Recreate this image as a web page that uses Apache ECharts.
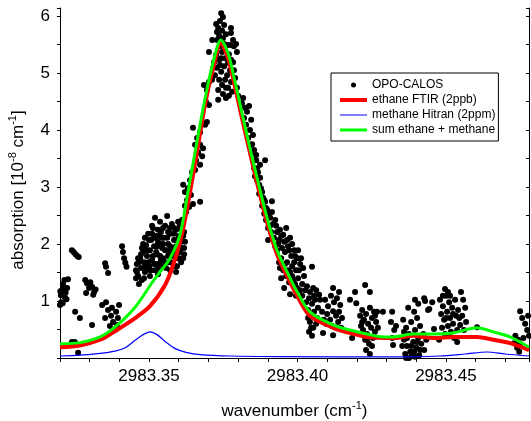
<!DOCTYPE html>
<html>
<head>
<meta charset="utf-8">
<script src="https://cdn.jsdelivr.net/npm/echarts@6/dist/echarts.min.js"></script>
<style>
  html, body { margin: 0; padding: 0; background: #fff; }
  #chart { width: 531px; height: 421px; }
</style>
</head>
<body>
<div id="chart"></div>
<script>
// OPO-CALOS measured absorption (wavenumber in cm^-1, absorption in 1e-8 cm^-1)
const measWn = [
  2983.3200, 2983.3203, 2983.3204, 2983.3207, 2983.3209, 2983.3212, 2983.3215, 2983.3216, 2983.3219, 2983.3224, 2983.3227, 2983.3210, 2983.3222, 2983.3201,
  2983.3240, 2983.3246, 2983.3252, 2983.3258, 2983.3263,
  2983.3251, 2983.3267, 2983.3240, 2983.3250, 2983.3261,
  2983.3285, 2983.3291, 2983.3298, 2983.3302, 2983.3312, 2983.3315, 2983.3288, 2983.3308, 2983.3320, 2983.3308,
  2983.3352, 2983.3362, 2983.3355,
  2983.3342, 2983.3355, 2983.3362, 2983.3372, 2983.3379, 2983.3389, 2983.3395, 2983.3368, 2983.3385, 2983.3352, 2983.3375, 2983.3392, 2983.3399,
  2983.3409, 2983.3412, 2983.3416, 2983.3420, 2983.3424,
  2983.3456, 2983.3463, 2983.3459, 2983.3470, 2983.3473, 2983.3480, 2983.3483, 2983.3486, 2983.3490, 2983.3493,
  2983.3497, 2983.3500, 2983.3503, 2983.3507, 2983.3510, 2983.3513, 2983.3517, 2983.3520, 2983.3524, 2983.3527,
  2983.3530, 2983.3534, 2983.3537, 2983.3540, 2983.3544, 2983.3547, 2983.3550, 2983.3554, 2983.3557, 2983.3561,
  2983.3564, 2983.3567, 2983.3571, 2983.3574, 2983.3577, 2983.3581, 2983.3584, 2983.3588, 2983.3591, 2983.3594,
  2983.3598, 2983.3601, 2983.3604, 2983.3608, 2983.3615, 2983.3618, 2983.3476, 2983.3466, 2983.3503, 2983.3520,
  2983.3530, 2983.3571, 2983.3591,
  2983.3463, 2983.3476, 2983.3486, 2983.3497, 2983.3507, 2983.3513, 2983.3524, 2983.3530, 2983.3537, 2983.3544,
  2983.3550, 2983.3557, 2983.3564, 2983.3571, 2983.3577, 2983.3584, 2983.3591, 2983.3598, 2983.3604, 2983.3611,
  2983.3510, 2983.3527, 2983.3547, 2983.3567, 2983.3588, 2983.3608, 2983.3493, 2983.3483, 2983.3456,
  2983.3459, 2983.3466, 2983.3473, 2983.3480, 2983.3486, 2983.3493, 2983.3500, 2983.3503, 2983.3510, 2983.3517,
  2983.3517, 2983.3524, 2983.3530, 2983.3534, 2983.3540, 2983.3540, 2983.3547, 2983.3554, 2983.3554, 2983.3561,
  2983.3564, 2983.3571, 2983.3574, 2983.3581, 2983.3584, 2983.3591, 2983.3594, 2983.3601, 2983.3601, 2983.3608,
  2983.3615, 2983.3618, 2983.3621,
  2983.3615, 2983.3621, 2983.3628, 2983.3635, 2983.3625, 2983.3641, 2983.3648, 2983.3611, 2983.3604, 2983.3618,
  2983.3638, 2983.3645, 2983.3658, 2983.3665, 2983.3672, 2983.3679, 2983.3682, 2983.3672, 2983.3621, 2983.3631,
  2983.3598, 2983.3655,
  2983.3655, 2983.3662, 2983.3672, 2983.3665, 2983.3689, 2983.3695, 2983.3648, 2983.3672,
  2983.3685, 2983.3695, 2983.3702, 2983.3692, 2983.3702, 2983.3702, 2983.3716,
  2983.3743, 2983.3749, 2983.3739, 2983.3753, 2983.3733, 2983.3746, 2983.3759, 2983.3736, 2983.3749,
  2983.3726, 2983.3729, 2983.3776, 2983.3783, 2983.3786, 2983.3713, 2983.3796, 2983.3793, 2983.3776,
  2983.3726, 2983.3736, 2983.3746, 2983.3756, 2983.3766, 2983.3729, 2983.3743, 2983.3753, 2983.3763, 2983.3773,
  2983.3736, 2983.3746, 2983.3756, 2983.3766, 2983.3776, 2983.3749, 2983.3759, 2983.3739, 2983.3780, 2983.3733,
  2983.3719, 2983.3769, 2983.3783, 2983.3790, 2983.3796, 2983.3763, 2983.3739,
  2983.3722, 2983.3733, 2983.3743, 2983.3753, 2983.3759, 2983.3769, 2983.3776, 2983.3786, 2983.3729, 2983.3773,
  2983.3712, 2983.3800,
  2983.3813, 2983.3823, 2983.3830, 2983.3820, 2983.3837, 2983.3827, 2983.3840, 2983.3834, 2983.3847, 2983.3854,
  2983.3844, 2983.3817, 2983.3861, 2983.3850,
  2983.3844, 2983.3850, 2983.3861, 2983.3854, 2983.3867, 2983.3864, 2983.3874, 2983.3877, 2983.3871, 2983.3884,
  2983.3881, 2983.3891, 2983.3888, 2983.3898, 2983.3894, 2983.3891, 2983.3908, 2983.3914, 2983.3901, 2983.3911,
  2983.3921, 2983.3928, 2983.3941, 2983.3952, 2983.3962, 2983.3975, 2983.3935, 2983.3948, 2983.3958, 2983.3968,
  2983.3979, 2983.3989, 2983.3999, 2983.3965, 2983.3982, 2983.4009, 2983.3995, 2983.4019, 2983.4049, 2983.3918,
  2983.3931, 2983.3945, 2983.3874, 2983.3857,
  2983.3850, 2983.3864, 2983.3871, 2983.3881, 2983.3888, 2983.3894, 2983.3901, 2983.3908, 2983.3914, 2983.3925,
  2983.3931, 2983.3938, 2983.3945, 2983.3955, 2983.3965, 2983.3972, 2983.3982, 2983.3992, 2983.4002, 2983.4012,
  2983.3958, 2983.3975, 2983.3985, 2983.3999, 2983.4016, 2983.4026, 2983.3941, 2983.3925, 2983.3901,
  2983.3938, 2983.3952, 2983.3962, 2983.3972, 2983.3982, 2983.3992, 2983.4002, 2983.4009, 2983.3955, 2983.3975,
  2983.3995, 2983.3945, 2983.4016, 2983.4022, 2983.3968, 2983.3989, 2983.4005,
  2983.4032, 2983.4042, 2983.4053, 2983.4039, 2983.4049, 2983.4059, 2983.4036, 2983.4046, 2983.4056, 2983.4066,
  2983.4042, 2983.4053, 2983.4063, 2983.4039, 2983.4049, 2983.4069, 2983.4029, 2983.4073, 2983.4063,
  2983.4036, 2983.4046, 2983.4056, 2983.4076, 2983.4083, 2983.4089,
  2983.4093, 2983.4103, 2983.4113, 2983.4123, 2983.4133, 2983.4144, 2983.4100, 2983.4110, 2983.4120, 2983.4130,
  2983.4140, 2983.4150, 2983.4096, 2983.4117, 2983.4137, 2983.4120, 2983.4140, 2983.4086, 2983.4120, 2983.4147,
  2983.4177, 2983.4198, 2983.4194, 2983.4228, 2983.4244, 2983.4184, 2983.4218,
  2983.4218, 2983.4231, 2983.4244, 2983.4258, 2983.4224, 2983.4238, 2983.4251, 2983.4265, 2983.4221, 2983.4234,
  2983.4248, 2983.4261, 2983.4228, 2983.4241, 2983.4254, 2983.4231, 2983.4244, 2983.4268, 2983.4211, 2983.4271,
  2983.4214, 2983.4234, 2983.4251, 2983.4261,
  2983.4288, 2983.4319, 2983.4315, 2983.4326, 2983.4319, 2983.4332, 2983.4322,
  2983.4356, 2983.4366, 2983.4376, 2983.4359, 2983.4369, 2983.4380, 2983.4390, 2983.4400, 2983.4386, 2983.4363,
  2983.4407, 2983.4396, 2983.4410, 2983.4417, 2983.4427, 2983.4383, 2983.4393, 2983.4403, 2983.4413, 2983.4424,
  2983.4396, 2983.4373, 2983.4434, 2983.4376, 2983.4353,
  2983.4359, 2983.4369, 2983.4383, 2983.4393, 2983.4403, 2983.4413, 2983.4366, 2983.4396,
  2983.4407, 2983.4427, 2983.4440, 2983.4454, 2983.4430, 2983.4444,
  2983.4480, 2983.4490, 2983.4501, 2983.4511, 2983.4521, 2983.4531, 2983.4484, 2983.4494, 2983.4504, 2983.4514,
  2983.4524, 2983.4534, 2983.4487, 2983.4497, 2983.4507, 2983.4517, 2983.4528, 2983.4497, 2983.4507, 2983.4551,
  2983.4558, 2983.4565, 2983.4555, 2983.4568, 2983.4561, 2983.4548, 2983.4541, 2983.4477, 2983.4538, 2983.4460,
  2983.4490, 2983.4514, 2983.4524, 2983.4501, 2983.4511, 2983.4538, 2983.4545,
  2983.4605,
  2983.4750, 2983.4757, 2983.4767, 2983.4774, 2983.4734, 2983.4743, 2983.4750, 2983.4740, 2983.4747, 2983.4761,
  2983.4730, 2983.4777, 2983.4780
];
const measAbs = [
  0.93, 1.10, 0.98, 1.19, 0.96, 1.25, 1.37, 1.07, 1.15, 1.23, 1.38, 1.30, 1.03, 1.17,
  1.89, 1.86, 1.82, 1.79, 1.77,
  0.81, 0.70, 0.28, 0.28, 0.09,
  1.37, 1.31, 1.23, 1.33, 1.11, 1.16, 1.14, 1.25, 1.20, 0.58,
  1.66, 1.49, 1.60,
  0.93, 0.98, 0.84, 0.74, 0.63, 0.81, 0.70, 0.56, 0.49, 0.70, 0.88, 0.58, 0.93,
  1.96, 1.86, 1.75, 1.67, 1.60,
  1.54, 1.44, 1.65, 1.75, 1.58, 1.86, 1.68, 1.51, 1.98, 1.79,
  2.18, 1.61, 1.89, 2.07, 1.72, 2.28, 1.96, 2.46, 2.14, 1.82,
  2.04, 1.65, 2.39, 2.21, 1.93, 1.75, 2.11, 2.32, 1.58, 2.49,
  2.00, 1.82, 2.18, 1.68, 2.35, 1.93, 2.07, 1.79, 2.25, 1.61,
  1.96, 2.14, 1.86, 2.04, 1.75, 1.93, 1.37, 1.30, 1.44, 1.54,
  1.47, 1.54, 1.51,
  1.75, 1.93, 2.11, 1.68, 1.54, 1.79, 1.65, 2.25, 1.79, 2.11,
  1.61, 1.89, 2.21, 1.96, 1.79, 2.28, 1.96, 1.75, 2.11, 2.25,
  2.18, 1.96, 2.00, 1.68, 1.61, 1.68, 1.58, 1.40, 1.40,
  1.51, 1.68, 1.82, 2.00, 1.61, 1.89, 2.07, 1.54, 2.32, 2.11,
  1.65, 1.86, 1.58, 2.14, 2.00, 1.72, 2.28, 1.89, 1.68, 2.11,
  1.79, 2.28, 1.89, 1.65, 2.18, 1.86, 2.07, 2.28, 1.75, 1.93,
  2.14, 1.82, 2.04,
  3.04, 2.91, 2.77, 2.65, 2.56, 2.86, 2.70, 2.42, 2.32, 2.21,
  3.12, 3.26, 3.47, 3.60, 3.39, 3.54, 3.68, 2.74, 2.67, 2.98,
  2.39, 3.30,
  3.74, 3.86, 3.96, 3.61, 4.09, 4.14, 4.04, 3.74,
  4.79, 4.70, 4.84, 4.49, 4.44, 5.37, 5.09,
  6.05, 5.98, 5.91, 5.84, 5.79, 5.74, 5.68, 5.65, 5.61,
  5.86, 5.72, 5.70, 5.58, 5.47, 5.58, 5.37, 5.51, 5.79,
  5.32, 5.23, 5.37, 5.26, 5.18, 5.09, 5.02, 5.12, 4.96, 5.05,
  4.88, 4.79, 4.88, 4.74, 4.84, 4.63, 4.56, 5.14, 4.67, 4.70,
  5.19, 5.33, 5.19, 4.91, 4.74, 5.49, 5.47,
  4.96, 4.53, 5.26, 5.51, 4.74, 4.60, 5.23, 5.05, 5.58, 5.49,
  4.88, 4.60,
  4.47, 4.39, 4.32, 4.21, 4.42, 4.09, 4.00, 3.86, 3.75, 3.65,
  4.18, 4.56, 3.56, 3.91,
  3.74, 3.61, 3.47, 3.33, 3.26, 3.12, 3.16, 2.98, 2.88, 2.81,
  2.67, 2.74, 2.53, 2.60, 2.42, 3.47, 2.46, 2.75, 2.28, 2.21,
  2.11, 2.32, 2.25, 2.16, 2.28, 2.11, 2.00, 1.93, 1.86, 1.96,
  1.79, 1.89, 1.75, 1.68, 1.61, 1.65, 1.54, 1.58, 1.60, 2.35,
  1.89, 1.75, 3.39, 3.19,
  3.47, 3.33, 3.04, 2.91, 2.77, 2.63, 2.53, 2.32, 2.56, 2.42,
  2.21, 2.07, 2.14, 2.04, 2.07, 1.89, 2.00, 1.79, 1.89, 1.75,
  1.65, 1.51, 1.37, 1.23, 1.09, 1.19, 1.58, 1.96, 2.07,
  1.68, 1.54, 1.44, 1.33, 1.44, 1.30, 1.40, 1.19, 1.23, 1.12,
  1.09, 1.40, 1.30, 1.44, 1.54, 1.68, 1.54,
  1.26, 1.16, 1.23, 1.05, 0.95, 1.02, 0.84, 0.74, 0.81, 0.70,
  0.63, 0.53, 0.60, 0.46, 0.39, 0.88, 0.98, 1.11, 1.19,
  0.70, 0.53, 1.09, 1.02, 0.81, 0.67,
  1.02, 0.91, 1.09, 0.98, 1.05, 0.93, 0.77, 0.67, 0.82, 0.74,
  0.81, 0.70, 0.60, 0.56, 0.63, 1.23, 1.16, 0.44, 0.40, 0.53,
  1.02, 0.96, 1.16, 1.28, 1.16, 0.35, 0.63,
  0.84, 0.77, 0.88, 0.81, 0.67, 0.60, 0.70, 0.63, 0.49, 0.42,
  0.53, 0.46, 0.32, 0.25, 0.35, 0.14, 0.07, 0.81, 0.74, 0.53,
  0.56, 0.32, 0.21, 0.74,
  0.81, 0.81, 0.63, 0.49, 0.35, 0.56, 0.23,
  0.67, 0.53, 0.42, 0.32, 0.21, 0.11, 0.28, 0.18, 0.04, 0.07,
  0.35, 0.49, 0.05, 0.25, 0.14, 0.63, 0.81, 0.70, 0.56, 0.42,
  1.02, 0.88, 0.32, 0.00, 0.21,
  0.46, 0.35, 0.21, 0.11, 0.28, 0.14, 0.00, 0.02,
  0.95, 1.05, 0.84, 0.98, 1.00, 0.86,
  1.02, 0.91, 1.09, 0.98, 0.88, 1.02, 0.77, 0.67, 0.81, 0.70,
  0.60, 0.74, 0.53, 0.42, 0.56, 0.46, 0.35, 1.21, 1.16, 1.16,
  1.02, 0.88, 0.74, 0.63, 0.49, 0.58, 0.84, 0.32, 0.28, 0.51,
  1.09, 1.09, 0.77, 0.70, 0.39, 0.49, 0.70,
  0.54,
  0.82, 0.70, 0.60, 0.49, 0.39, 0.32, 0.25, 0.18, 0.11, 0.35,
  0.26, 0.74, 0.39
];

// ethane FTIR reference spectrum (2 ppb)
const ethaneWn = [
  2983.3200, 2983.3267, 2983.3335, 2983.3385, 2983.3453, 2983.3503, 2983.3554, 2983.3587, 2983.3614, 2983.3638,
  2983.3662, 2983.3689, 2983.3716, 2983.3742, 2983.3766, 2983.3786, 2983.3813, 2983.3840, 2983.3864, 2983.3897,
  2983.3931, 2983.3965, 2983.3999, 2983.4042, 2983.4120, 2983.4177, 2983.4234, 2983.4322, 2983.4389, 2983.4463,
  2983.4524, 2983.4605, 2983.4659, 2983.4716, 2983.4780
];
const ethaneAbs = [
  0.19, 0.22, 0.32, 0.47, 0.70, 0.91, 1.28, 1.72, 2.25, 2.91,
  3.63, 4.46, 5.09, 5.53, 5.26, 4.84, 4.21, 3.60, 3.07, 2.39,
  1.82, 1.44, 1.09, 0.74, 0.53, 0.44, 0.37, 0.35, 0.39, 0.35,
  0.37, 0.37, 0.32, 0.26, 0.14
];

// methane HITRAN simulation (2 ppm)
const methaneWn = [
  2983.3200, 2983.3267, 2983.3335, 2983.3385, 2983.3420, 2983.3453, 2983.3480, 2983.3503, 2983.3527, 2983.3554,
  2983.3590, 2983.3625, 2983.3672, 2983.3773, 2983.3941, 2983.4346, 2983.4480, 2983.4565, 2983.4639, 2983.4700,
  2983.4780
];
const methaneAbs = [
  0.035, 0.05, 0.08, 0.12, 0.18, 0.31, 0.41, 0.46, 0.41, 0.29,
  0.16, 0.10, 0.06, 0.035, 0.025, 0.02, 0.035, 0.07, 0.105, 0.07,
  0.035
];

// sum of ethane and methane
const sumWn = [
  2983.3200, 2983.3267, 2983.3335, 2983.3385, 2983.3453, 2983.3510, 2983.3537, 2983.3571, 2983.3604, 2983.3631,
  2983.3655, 2983.3689, 2983.3716, 2983.3742, 2983.3766, 2983.3786, 2983.3813, 2983.3840, 2983.3864, 2983.3897,
  2983.3931, 2983.3965, 2983.3999, 2983.4042, 2983.4120, 2983.4177, 2983.4234, 2983.4288, 2983.4322, 2983.4389,
  2983.4463, 2983.4524, 2983.4605, 2983.4659, 2983.4716, 2983.4780
];
const sumAbs = [
  0.25, 0.27, 0.37, 0.54, 0.89, 1.32, 1.51, 1.75, 2.16, 2.91,
  3.61, 4.56, 5.19, 5.58, 5.35, 4.93, 4.30, 3.68, 3.16, 2.47,
  1.89, 1.51, 1.16, 0.81, 0.58, 0.49, 0.42, 0.37, 0.37, 0.42,
  0.42, 0.44, 0.53, 0.46, 0.37, 0.19
];

const seriesNames = ['OPO-CALOS', 'ethane FTIR (2ppb)', 'methane Hitran (2ppm)', 'sum ethane + methane'];

const xMin = 2983.32, xMax = 2983.478, xStep = 0.01;
const yMin = 0, yMax = 6.14, yStep = 0.5;

const FONT = 'Liberation Sans, Arial, sans-serif';
const pairs = (xs, ys) => xs.map((x, i) => [x, ys[i]]);

const xLabel = v => {
  const k = v / 0.05;
  return Math.abs(k - Math.round(k)) < 1e-4 ? v.toFixed(2) : '';
};
const yLabel = v => {
  return (v > 0.01 && Math.abs(v - Math.round(v)) < 1e-6) ? String(Math.round(v)) : '';
};

const axisLine = { show: true, lineStyle: { color: '#000', width: 1 } };
const supRich = { s: { fontFamily: FONT, fontSize: 11, color: '#000', lineHeight: 12, verticalAlign: 'top' } };

const chart = echarts.init(document.getElementById('chart'), null, { renderer: 'canvas' });
chart.setOption({
  animation: false,
  backgroundColor: '#fff',
  grid: { left: 60, right: 2, top: 8, bottom: 63, outerBoundsMode: 'none' },
  legend: {
    orient: 'vertical',
    left: 331,
    top: 73,
    padding: [6, 3, 5, 9],
    itemGap: 3,
    itemWidth: 27,
    itemHeight: 5,
    borderColor: '#000',
    borderWidth: 1,
    backgroundColor: '#fff',
    textStyle: { fontFamily: FONT, fontSize: 12, color: '#000' },
    data: [
      { name: seriesNames[0], icon: 'circle' },
      { name: seriesNames[1], icon: 'path://M0,0H27V4H0Z' },
      { name: seriesNames[2], icon: 'path://M0,0H27V1H0Z' },
      { name: seriesNames[3], icon: 'path://M0,0H27V3H0Z' }
    ]
  },
  xAxis: [{
    type: 'value',
    min: xMin, max: xMax, interval: xStep,
    position: 'bottom',
    axisLine,
    axisTick: { show: true, inside: false, length: 4, lineStyle: { color: '#000' } },
    axisLabel: { formatter: xLabel, fontFamily: FONT, fontSize: 17, color: '#000', margin: 10 },
    splitLine: { show: false },
    name: 'wavenumber (cm{s|-1})',
    nameLocation: 'middle',
    nameGap: 42,
    nameTextStyle: { fontFamily: FONT, fontSize: 17, color: '#000', lineHeight: 22, rich: supRich }
  }, {
    type: 'value',
    min: xMin, max: xMax, interval: xStep,
    position: 'top',
    axisLine,
    axisTick: { show: true, inside: true, length: 3, lineStyle: { color: '#000' } },
    axisLabel: { show: false },
    splitLine: { show: false }
  }],
  yAxis: [{
    type: 'value',
    min: yMin, max: yMax, interval: yStep,
    position: 'left',
    axisLine,
    axisTick: { show: true, inside: false, length: 3, lineStyle: { color: '#000' } },
    axisLabel: { formatter: yLabel, fontFamily: FONT, fontSize: 17, color: '#000', margin: 10 },
    splitLine: { show: false },
    name: 'absorption [10{s|-8} cm{s|-1}]',
    nameLocation: 'middle',
    nameRotate: 90,
    nameGap: 28,
    nameTextStyle: {
      fontFamily: FONT, fontSize: 17, color: '#000', lineHeight: 22,
      padding: [0, 0, 0, -14],
      rich: supRich
    }
  }, {
    type: 'value',
    min: yMin, max: yMax, interval: yStep,
    position: 'right',
    axisLine,
    axisTick: { show: true, inside: true, length: 3, lineStyle: { color: '#000' } },
    axisLabel: { show: false },
    splitLine: { show: false }
  }],
  series: [{
    name: seriesNames[0],
    type: 'scatter',
    data: pairs(measWn, measAbs),
    symbol: 'circle',
    symbolSize: 6,
    itemStyle: { color: '#000', opacity: 1 },
    z: 2
  }, {
    name: seriesNames[1],
    type: 'line',
    data: pairs(ethaneWn, ethaneAbs),
    smooth: 0.3,
    symbol: 'none',
    showSymbol: false,
    lineStyle: { color: '#ff0000', width: 4 },
    itemStyle: { color: '#ff0000' },
    z: 3
  }, {
    name: seriesNames[2],
    type: 'line',
    data: pairs(methaneWn, methaneAbs),
    smooth: 0.3,
    symbol: 'none',
    showSymbol: false,
    lineStyle: { color: '#0000ff', width: 1.2 },
    itemStyle: { color: '#0000ff' },
    z: 4
  }, {
    name: seriesNames[3],
    type: 'line',
    data: pairs(sumWn, sumAbs),
    smooth: 0.3,
    symbol: 'none',
    showSymbol: false,
    lineStyle: { color: '#00ff00', width: 3 },
    itemStyle: { color: '#00ff00' },
    z: 5
  }]
});
</script>
</body>
</html>
